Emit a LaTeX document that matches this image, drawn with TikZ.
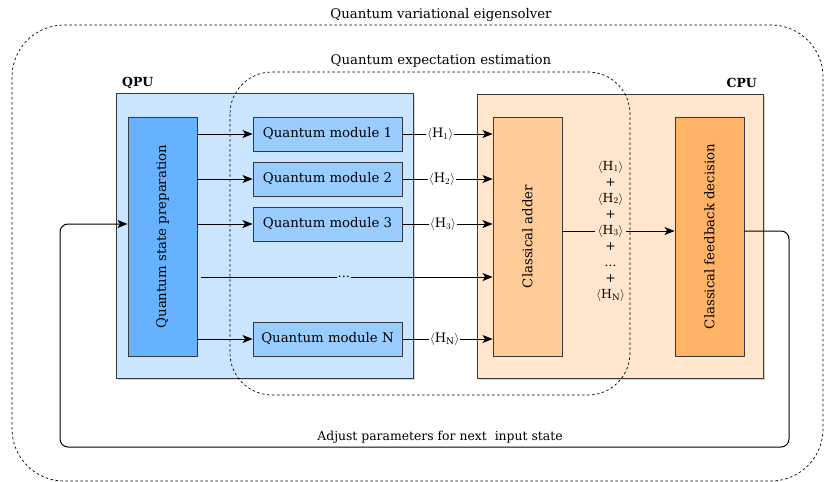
\documentclass[tikz,border=0pt]{standalone}
\usepackage{fontspec}
\setmainfont{DejaVu Serif}
\usetikzlibrary{arrows.meta,shadows,calc}
\definecolor{qpuc}{HTML}{CCE5FF}
\definecolor{prepc}{HTML}{66B2FF}
\definecolor{modc}{HTML}{99CCFF}
\definecolor{cpuc}{HTML}{FFE6CC}
\definecolor{addc}{HTML}{FFCC99}
\definecolor{fbc}{HTML}{FFB366}
\definecolor{strk}{HTML}{36393D}
\tikzset{
  base/.style={font=\fontsize{13.3}{15}\selectfont},
  container/.style={draw=strk, line width=0.9pt, inner sep=0pt,
    drop shadow={shadow xshift=2pt, shadow yshift=-2pt, opacity=0.35}},
  tallbox/.style={draw=strk, line width=0.9pt, inner sep=0pt, minimum width=69pt, minimum height=239pt},
  modbox/.style={draw=strk, line width=0.9pt, fill=modc, inner sep=0pt, minimum width=149pt, minimum height=34pt},
  arr/.style={-{Stealth[length=10pt,width=8pt,inset=2.5pt]}, line width=1pt},
  lbl/.style={inner sep=1pt, font=\fontsize{13}{14}\selectfont},
  grp/.style={line width=0.7pt, dash pattern=on 2.5pt off 2.5pt},
  grptitle/.style={font=\fontsize{13.3}{15}\selectfont},
  hdr/.style={font=\fontsize{12.5}{14}\selectfont\bfseries, inner sep=0pt},
}
\begin{document}
\begin{tikzpicture}[x=1pt,y=-1pt,base]
\useasboundingbox (0,0) rectangle (825,482);
% outer group
\draw[grp, rounded corners=52] (12,25) rectangle (823,481);
\node[grptitle] (title) at (441,15) {Quantum variational eigensolver};
% containers
\node[container, fill=qpuc, minimum width=297pt, minimum height=285pt] (qpu) at (264.5,235.5) {};
\node[container, fill=cpuc, minimum width=286pt, minimum height=284pt] (cpu) at (620,236) {};
\node[hdr, anchor=west] (qpul) at (122,83) {QPU};
\node[hdr, anchor=east] (cpul) at (757,83) {CPU};
% boxes
\node[tallbox, fill=prepc] (prep) at (162.5,236.5) {\rotatebox{90}{Quantum state preparation}};
\node[modbox] (m1) at (327.5,134) {Quantum module 1};
\node[modbox] (m2) at (327.5,179) {Quantum module 2};
\node[modbox] (m3) at (327.5,224) {Quantum module 3};
\node[modbox] (mn) at (327.5,339) {Quantum module N};
\node[tallbox, fill=addc] (add) at (527.5,236.5) {\rotatebox{90}{Classical adder}};
\node[tallbox, fill=fbc] (fb) at (709.5,236.5) {\rotatebox{90}{Classical feedback decision}};
% inner group
\draw[grp, rounded corners=42] (230,72) rectangle (630,395);
\node[grptitle] (title2) at (441,61) {Quantum expectation estimation};
% prep -> modules
\foreach \m in {m1,m2,m3,mn}{
  \draw[arr] (prep.east |- \m.west) -- (\m.west);
}
\coordinate (dotsy) at (0,277);
\coordinate (dotsx) at (201,277);
\draw[arr] (dotsx) -- node[lbl, fill=qpuc, pos=0.49] (dots) {...} (dotsy -| add.west);
% modules -> adder
\draw[arr] (m1.east) -- node[lbl, fill=white, pos=0.42] (h1) {$\langle$H$_1\rangle$} (m1.east -| add.west);
\draw[arr] (m2.east) -- node[lbl, fill=white, pos=0.44] (h2) {$\langle$H$_2\rangle$} (m2.east -| add.west);
\draw[arr] (m3.east) -- node[lbl, fill=white, pos=0.45] (h3) {$\langle$H$_3\rangle$} (m3.east -| add.west);
\draw[arr] (mn.east) -- node[lbl, fill=white, pos=0.47] (hn) {$\langle$H$_\mathrm{N}\rangle$} (mn.east -| add.west);
% adder -> feedback
\coordinate (sumy) at (0,231);
\draw[arr] (add.east |- sumy) -- node[lbl, fill=cpuc, pos=0.43, align=center, font=\fontsize{12.5}{16}\selectfont] (sum)
  {$\langle$H$_1\rangle$\\+\\$\langle$H$_2\rangle$\\+\\$\langle$H$_3\rangle$\\+\\...\\+\\$\langle$H$_\mathrm{N}\rangle$} (fb.west |- sumy);
% feedback loop
\coordinate (loopr) at (789,447);
\coordinate (loopl) at (60,447);
\coordinate (prepin) at (0,224);
\draw[arr, rounded corners=8] (fb.east |- sumy) -- (loopr |- sumy) -- (loopr) -- (loopl) -- (loopl |- prepin) -- (prep.west |- prepin);
\node[font=\fontsize{12.4}{14}\selectfont] (adj) at (440,437) {Adjust parameters for next\ \ input state};
\end{tikzpicture}
\end{document}
